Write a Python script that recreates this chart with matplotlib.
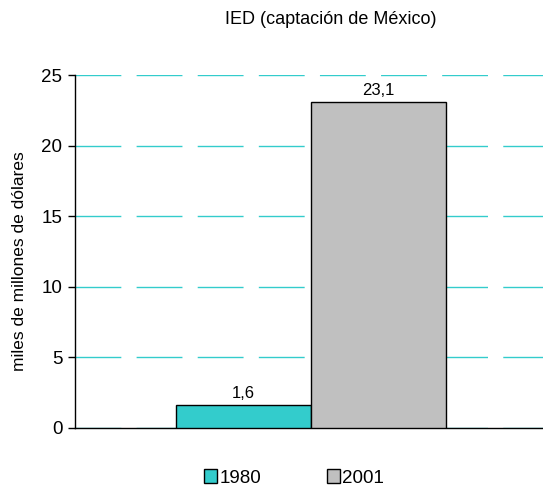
import matplotlib.pyplot as plt
from matplotlib.patches import Patch

years = ['1980', '2001']
values = [1.6, 23.1]
value_labels = ['1,6', '23,1']
colors = ['#33CCCC', '#C0C0C0']
yticks = [0, 5, 10, 15, 20, 25]

plt.rcParams['font.family'] = ['Liberation Sans Narrow', 'Liberation Sans', 'DejaVu Sans']

fig = plt.figure(figsize=(5.43, 4.88), dpi=100)
ax = fig.add_axes([75 / 543, 1 - 428 / 488, 468 / 543, 353 / 488])

positions = list(range(len(years)))
bars = ax.bar(positions, values, width=1.0, color=colors, edgecolor='black', linewidth=1, zorder=3)
for b, lab in zip(bars, value_labels):
    ax.text(b.get_x() + b.get_width() / 2, b.get_height() + 0.3, lab,
            ha='center', va='bottom', fontsize=12)

ax.set_xlim(-1.248, 2.219)
ax.set_ylim(0, 25)
ax.set_yticks(yticks)
ax.set_yticklabels([str(t) for t in yticks], fontsize=13.5)
ax.set_xticks([])
ax.yaxis.grid(True, color='#33CCCC', linewidth=1, linestyle=(0, (33, 11)), zorder=0)
ax.tick_params(axis='y', length=5, width=1, pad=4)
for s in ['top', 'right']:
    ax.spines[s].set_visible(False)
ax.spines['left'].set_linewidth(1)
ax.spines['bottom'].set_linewidth(1)

fig.text(20 / 543, 1 - 261 / 488, 'miles de millones de dólares', rotation=90,
         ha='center', va='center', fontsize=12.5)

fig.text(331 / 543, 1 - 20 / 488, 'IED (captación de México)', ha='center', va='center', fontsize=13)

handles = [Patch(facecolor=c, edgecolor='black', label=y) for c, y in zip(colors, years)]
fig.legend(handles=handles, loc='center', bbox_to_anchor=(294 / 543, 1 - 478 / 488), ncol=2,
           frameon=False, fontsize=13.5, handlelength=0.7, handleheight=0.7,
           handletextpad=0.12, columnspacing=3.5)

fig.savefig('out.png', dpi=100)
